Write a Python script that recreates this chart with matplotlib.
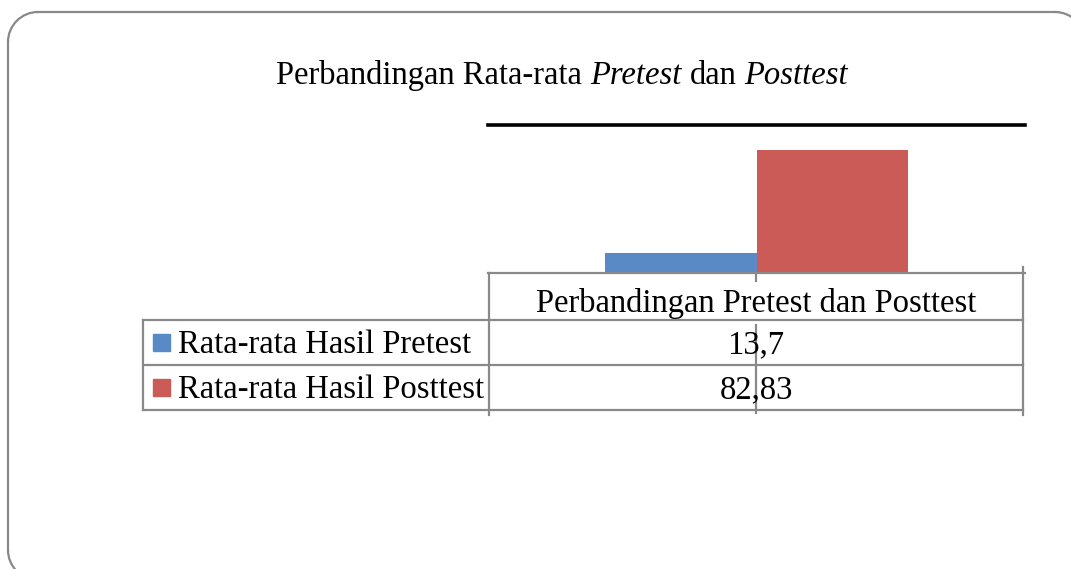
import matplotlib.pyplot as plt
from matplotlib.patches import Arc, Rectangle

series = ['Rata-rata Hasil Pretest', 'Rata-rata Hasil Posttest']
values = [13.7, 82.83]
category = 'Perbandingan Pretest dan Posttest'
colors = ['#5a8ac6', '#cb5b57']
grey = '#898989'
fs = 23.5

plt.rcParams['font.family'] = ['Liberation Serif', 'DejaVu Serif']

W, H = 1071, 569
fig = plt.figure(figsize=(W / 100, H / 100), dpi=100)

# overlay in pixel coords (y downwards) for frame, title and table
ov = fig.add_axes([0, 0, 1, 1])
ov.set_xlim(0, W)
ov.set_ylim(H, 0)
ov.axis('off')

# rounded frame (left 8, top 12, right 1085, bottom 580, radius 30)
fl = dict(color=grey, lw=1.6)
L, T, R, B, rad = 8, 12, 1085, 580, 30
ov.plot([L + rad, R - rad], [T, T], **fl)
ov.plot([L, L], [T + rad, B - rad], **fl)
ov.plot([R, R], [T + rad, B - rad], **fl)
ov.plot([L + rad, R - rad], [B, B], **fl)
ov.add_patch(Arc((L + rad, T + rad), 2 * rad, 2 * rad, theta1=180, theta2=270, **fl))
ov.add_patch(Arc((R - rad, T + rad), 2 * rad, 2 * rad, theta1=270, theta2=360, **fl))
ov.add_patch(Arc((L + rad, B - rad), 2 * rad, 2 * rad, theta1=90, theta2=180, **fl))

# plot area
x0, x1, ytop, ybot = 488, 1025, 125, 273
ax = fig.add_axes([x0 / W, 1 - ybot / H, (x1 - x0) / W, (ybot - ytop) / H])
bw = 0.283
for i, (v, c) in enumerate(zip(values, colors)):
    ax.bar((i - 0.5) * bw, v, width=bw, color=c, zorder=2)
ax.set_xlim(-0.5, 0.5)
ax.set_ylim(0, 100)
ax.set_xticks([])
ax.set_yticks([])
for s in ['left', 'right']:
    ax.spines[s].set_visible(False)
ax.spines['top'].set_color('black')
ax.spines['top'].set_linewidth(2.6)
ax.spines['bottom'].set_color(grey)
ax.spines['bottom'].set_linewidth(1.6)
ax.patch.set_alpha(0)

# title with italic parts
parts = [('Perbandingan Rata-rata', 'normal'), ('Pretest', 'italic'),
         ('dan', 'normal'), ('Posttest', 'italic')]
fig.canvas.draw()
r = fig.canvas.get_renderer()
texts = []
for s, st in parts:
    t = ov.text(0, 84, s, fontsize=fs, style=st, va='baseline', ha='left')
    texts.append(t)
a1 = ov.text(0, 84, 'a a', fontsize=fs)
a2 = ov.text(0, 84, 'aa', fontsize=fs)
space = a1.get_window_extent(r).width - a2.get_window_extent(r).width
a1.remove()
a2.remove()
widths = [t.get_window_extent(r).width for t in texts]
total = sum(widths) + space * (len(widths) - 1)
cx = 562 - total / 2
for t, w in zip(texts, widths):
    t.set_x(cx)
    cx += w + space

# data table
tl = dict(color=grey, lw=1.6)
ov.plot([143, 1023], [320, 320], **tl)
ov.plot([143, 1023], [365, 365], **tl)
ov.plot([143, 1023], [410, 410], **tl)
ov.plot([143, 143], [320, 410], **tl)
ov.plot([489, 489], [273, 415], **tl)
ov.plot([1023, 1023], [267, 415], **tl)
ov.plot([756, 756], [273, 281], **tl)
ov.plot([756, 756], [325, 413], **tl)

ov.text(756, 312, category, fontsize=fs, ha='center', va='baseline')
for i, (name, v, c) in enumerate(zip(series, values, colors)):
    yb = 353 + i * 45
    ov.add_patch(Rectangle((153, yb - 19), 17, 17, color=c))
    ov.text(178, yb, name, fontsize=fs, ha='left', va='baseline')
    ov.text(756, yb, str(v).replace('.', ','), fontsize=fs, ha='center', va='baseline')

fig.savefig('out.png', dpi=100)
